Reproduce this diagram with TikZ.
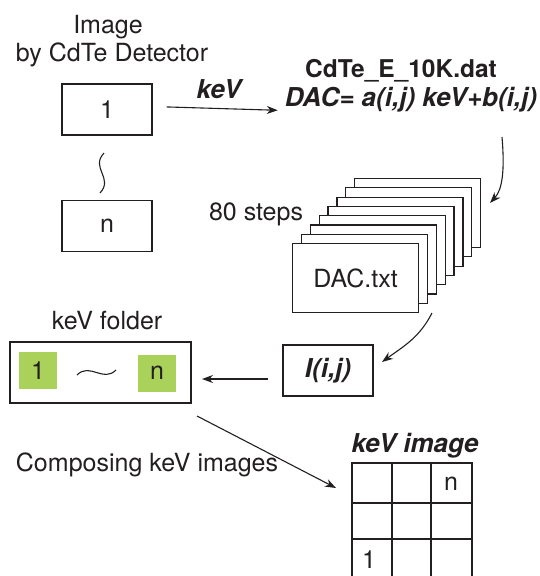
\documentclass[tikz,border=0pt]{standalone}
\usepackage{fontspec}
\setmainfont{TeX Gyre Heros}
\usetikzlibrary{arrows.meta,calc}
\definecolor{ink}{HTML}{231F20}
\definecolor{leaf}{HTML}{AAD25A}
\begin{document}
\begin{tikzpicture}[x=1pt,y=1pt,
  every node/.style={font=\fontsize{25}{29}\selectfont, text=ink, inner sep=0pt},
  box/.style={draw=ink, line width=1.2pt, minimum width=90pt, minimum height=51pt},
  pagebox/.style={draw=ink, line width=1.2pt, fill=white, minimum width=126pt, minimum height=69pt, anchor=north west},
  greenbox/.style={fill=leaf, minimum width=38pt, minimum height=37pt},
  arr/.style={draw=ink, line width=1.1pt, -{Stealth[length=11pt,width=8pt]}},
  thin/.style={draw=ink, line width=1.1pt},
  bi/.style={font=\fontsize{26}{30}\selectfont\bfseries\itshape},
  bo/.style={font=\fontsize{24.5}{29}\selectfont\bfseries},
  lbl/.style={anchor=base}]
\useasboundingbox (0,0) rectangle (540,-576);

% detector images
\node[lbl] (t1) at (108,-33) {Image};
\node[lbl] (t2) at (112,-61) {by CdTe Detector};
\node[box] (b1) at (107,-109.5) {1};
\node[box] (bn) at (107,-226) {n};
\draw[thin] (104,-153) .. controls (90,-168) and (114,-178) .. (100,-193);

% keV arrow and calibration
\node[lbl,bi] (kev) at (219,-98) {keV};
\node[lbl,bo] (cal) at (401,-77) {CdTe\_E\_10K.dat};
\node[lbl,bi] (dac) at (411,-106) {DAC= a(i,j) keV+b(i,j)};
\draw[arr, shorten <=14pt, shorten >=7pt] ([yshift=3pt]b1.east) -- ([yshift=-1pt]dac.west |- b1.east);

% stack of DAC pages
\foreach \k in {7,6,...,1}{
  \node[pagebox] (p\k) at ({292+8.86*\k},{-243+9.3*\k}) {};
}
\node[pagebox] (dactxt) at (292,-243) {DAC.txt};
\node[lbl] (steps) at (256,-220) {80 steps};

\coordinate (c1) at (502,-137);
\draw[arr] (c1) .. controls (505,-172) and (502,-190) .. (490,-203);

% I(i,j)
\node[box] (ib) at (328,-370.5) {\fontsize{26}{30}\selectfont\bfseries\itshape I(i,j)};
\coordinate (c2) at (432,-313);
\draw[arr] (c2) to[out=-117,in=36] (382,-362);

% keV folder
\node[lbl] (folderlbl) at (107,-329) {keV folder};
\node[draw=ink, line width=1.2pt, minimum width=181pt, minimum height=61pt] (folder) at (100.5,-372.5) {};
\node[greenbox] (g1) at (38,-370.5) {1};
\node[greenbox] (gn) at (157,-373) {n};
\draw[thin] (77,-375) .. controls (90,-362) and (103,-383) .. (116,-370);
\draw[arr] ([yshift=-8.5pt]ib.west) ++(-14,0) -- (202,-379);

% composing
\coordinate (c3) at (197,-416);
\coordinate (c4) at (336,-488);
\draw[arr] (c3) -- (c4);
\node[lbl] (comp) at (147,-471) {Composing keV images};

% keV image grid
\node[lbl,bi] (kimg) at (415,-452) {keV image};
\draw[thin] (352,-576) -- (352,-463) -- (472,-463) -- (472,-576);
\draw[thin] (392,-463) -- (392,-576);
\draw[thin] (431,-463) -- (431,-576);
\draw[thin] (352,-503) -- (472,-503);
\draw[thin] (352,-539) -- (472,-539);
\node (cn) at (451,-484) {n};
\node (c1n) at (369,-560) {1};
\end{tikzpicture}
\end{document}
